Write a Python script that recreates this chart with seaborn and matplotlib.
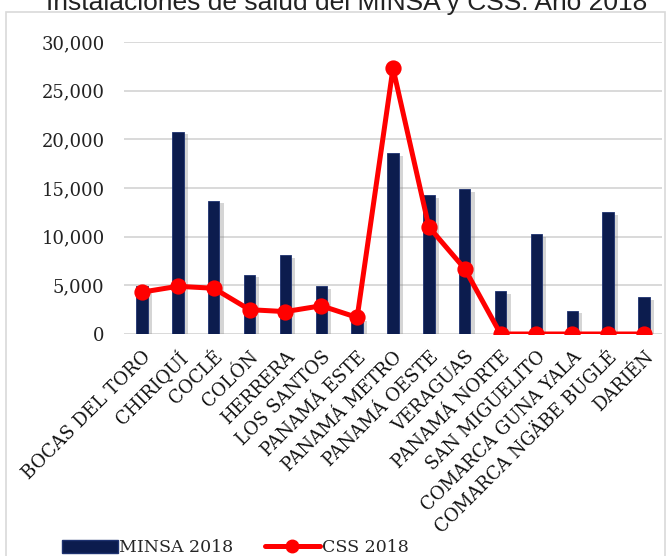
import matplotlib
matplotlib.use("Agg")
import matplotlib.pyplot as plt
import matplotlib.patheffects as pe
from matplotlib.lines import Line2D
from matplotlib.patches import Patch, Rectangle
import seaborn as sns
import pandas as pd

categories = ["BOCAS DEL TORO", "CHIRIQUÍ", "COCLÉ", "COLÓN", "HERRERA",
              "LOS SANTOS", "PANAMÁ ESTE", "PANAMÁ METRO", "PANAMÁ OESTE",
              "VERAGUAS", "PANAMÁ NORTE", "SAN MIGUELITO", "COMARCA GUNA YALA",
              "COMARCA NGÄBE BUGLÉ", "DARIÉN"]
minsa_2018 = [4900, 20800, 13700, 6100, 8100, 4900, 1600, 18600, 14300,
              14900, 4400, 10300, 2400, 12500, 3800]
css_2018 = [4300, 4900, 4700, 2500, 2300, 2900, 1700, 27300, 11000,
            6700, 0, 0, 0, 0, 0]
yticks = [0, 5000, 10000, 15000, 20000, 25000, 30000]
title = "Instalaciones de salud del MINSA y CSS. Año 2018"

df = pd.DataFrame({"cat": categories, "minsa": minsa_2018, "css": css_2018})

sns.set_theme(style="white")
plt.rcParams["font.family"] = ["DejaVu Serif"]

fig = plt.figure(figsize=(6.68, 5.56), dpi=100)
ax = fig.add_axes([124/668, 1-334/556, (662-124)/668, (334-42)/556])

bar_color = "#0c1c4e"
sns.barplot(data=df, x="cat", y="minsa", color=bar_color, width=0.32,
            saturation=1, ax=ax, zorder=3)
for p in ax.patches:
    p.set_path_effects([pe.SimplePatchShadow(offset=(3, -2), shadow_rgbFace="#888888", alpha=0.35),
                        pe.Normal()])
    p.set_edgecolor("#1e3270")
    p.set_linewidth(0.6)

sns.pointplot(data=df, x="cat", y="css", color="#ff0000", markers="o",
              linestyles="-", markersize=9, linewidth=3.6, ax=ax, zorder=5)

ax.set_ylim(0, 30000)
ax.set_xlim(-0.5, len(categories) - 0.5)
ax.set_yticks(yticks)
ax.set_yticklabels([f"{v:,}" for v in yticks], fontsize=13, color="#222222")
ax.set_xticks(range(len(categories)))
ax.set_xticklabels(categories, rotation=45, ha="right", rotation_mode="anchor",
                   fontsize=13, color="#111111")
ax.tick_params(axis="y", length=0, pad=14)
ax.tick_params(axis="x", length=0, pad=10)
ax.set_xlabel("")
ax.set_ylabel("")
ax.yaxis.grid(True, color="#d9d9d9", linewidth=1.4, zorder=0)
ax.set_axisbelow(True)
for s in ax.spines.values():
    s.set_visible(False)

# outer chart border
fig.patches.append(Rectangle((6/668, -0.05), (665-6)/668, 1-12/556+0.05,
                             transform=fig.transFigure, fill=False,
                             edgecolor="#d9d9d9", linewidth=1.2))

fig.text(347/668, 1-10/556, title, ha="center", va="baseline", fontsize=19,
         family=["Liberation Sans", "DejaVu Sans"], color="#222222")

handles = [Patch(facecolor=bar_color, edgecolor="#1e3270"),
           Line2D([0], [0], color="#ff0000", lw=3.6, marker="o", markersize=9)]
fig.legend(handles, ["MINSA 2018", "CSS 2018"], loc="center left",
           bbox_to_anchor=(55/668, 1-548/556), ncol=2, frameon=False,
           fontsize=12.5, handlelength=3.2, handletextpad=0.1,
           columnspacing=1.8, borderaxespad=0)

fig.savefig("out.png", dpi=100)
